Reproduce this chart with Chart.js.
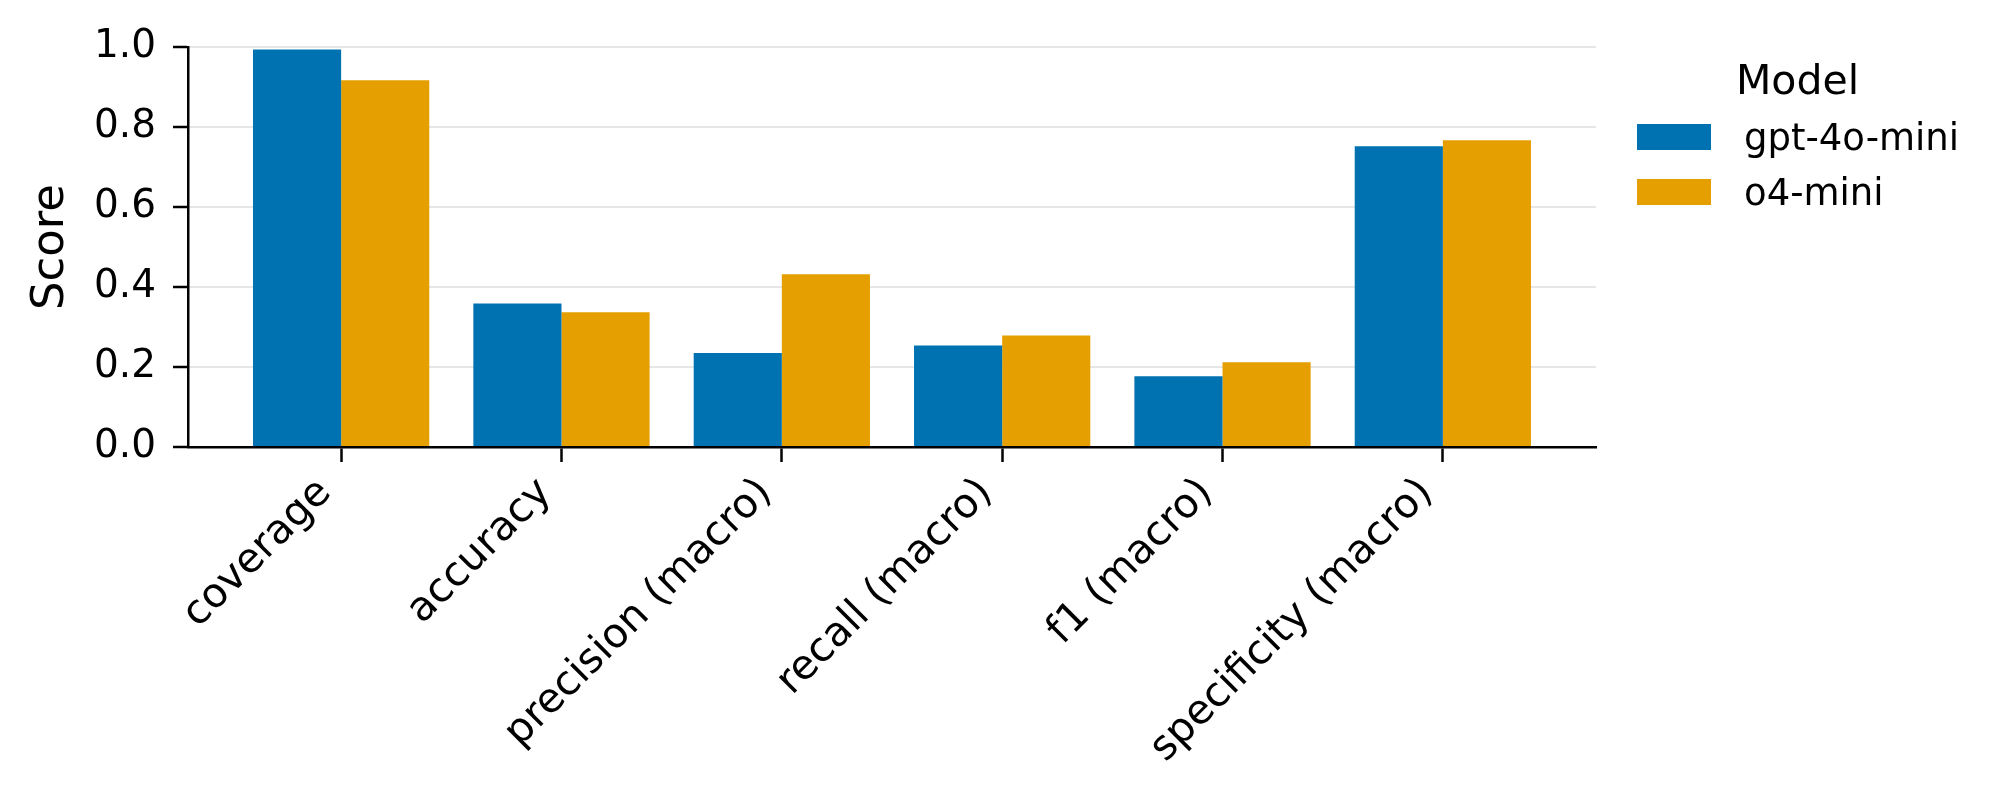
<!DOCTYPE html>
<html>
<head>
<meta charset="utf-8">
<script src="https://cdn.jsdelivr.net/npm/chart.js@4.4.1/dist/chart.umd.min.js"></script>
<style>
  html, body { margin: 0; padding: 0; background: #fff; }
  #wrap { position: relative; width: 2007px; height: 809px; }
  #chart { position: absolute; left: 0; top: 0; }
  .leg-title { position: absolute; left: 1637px; width: 321px; top: 60px; text-align: center;
               font-family: 'DejaVu Sans'; font-size: 41px; line-height: 1; color: #000; white-space: nowrap; }
  .leg-box { position: absolute; left: 1637px; width: 74px; height: 26px; }
  .leg-label { position: absolute; left: 1744px; font-family: 'DejaVu Sans'; font-size: 37px;
               line-height: 1; color: #000; white-space: nowrap; }
</style>
</head>
<body>
<div id="wrap">
  <canvas id="chart" width="2007" height="809"></canvas>
  <div id="legend"></div>
</div>
<script>
// data
const categories = ['coverage', 'accuracy', 'precision (macro)', 'recall (macro)', 'f1 (macro)', 'specificity (macro)'];
const gpt4oMini = [0.994, 0.359, 0.235, 0.254, 0.177, 0.752];
const o4Mini = [0.917, 0.337, 0.432, 0.279, 0.212, 0.767];
const seriesNames = ['gpt-4o-mini', 'o4-mini'];
const seriesColors = ['#0072B2', '#E69F00'];

const FONT = 'DejaVu Sans';

// Legend (outside the plot, like the original)
const legend = document.getElementById('legend');
legend.insertAdjacentHTML('beforeend', '<div class="leg-title">Model</div>');
seriesNames.forEach(function(name, i) {
    const boxTop = 124 + i * 55;
    legend.insertAdjacentHTML('beforeend',
        '<div class="leg-box" style="top:' + boxTop + 'px;background:' + seriesColors[i] + '"></div>' +
        '<div class="leg-label" style="top:' + (boxTop + 13 - 18) + 'px">' + name + '</div>');
});

function toPoints(values) {
    return values.map(function(v, i) { return { x: i, y: v }; });
}

const ctx = document.getElementById('chart');
const chart = new Chart(ctx, {
    type: 'bar',
    data: {
        datasets: [
            {
                label: seriesNames[0],
                data: toPoints(gpt4oMini),
                backgroundColor: seriesColors[0],
                borderWidth: 0,
                categoryPercentage: 0.8,
                barPercentage: 1.0
            },
            {
                label: seriesNames[1],
                data: toPoints(o4Mini),
                backgroundColor: seriesColors[1],
                borderWidth: 0,
                categoryPercentage: 0.8,
                barPercentage: 1.0
            }
        ]
    },
    options: {
        responsive: false,
        devicePixelRatio: 1,
        animation: false,
        layout: { padding: { top: 47, right: 411, bottom: 0, left: 0 } },
        plugins: {
            legend: { display: false },
            tooltip: { enabled: false }
        },
        scales: {
            x: {
                type: 'linear',
                min: -0.695,
                max: 5.695,
                offset: false,
                z: 1,
                afterBuildTicks: function(scale) {
                    scale.ticks = categories.map(function(c, i) { return { value: i }; });
                },
                afterFit: function(scale) { scale.height = 362; },
                grid: {
                    display: true,
                    offset: false,
                    drawOnChartArea: false,
                    drawTicks: true,
                    tickLength: 15,
                    tickColor: '#000',
                    tickWidth: 2.5
                },
                border: { display: true, color: '#000', width: 2.5 },
                ticks: {
                    autoSkip: false,
                    minRotation: 45,
                    maxRotation: 45,
                    padding: 7,
                    labelOffset: -16,
                    color: '#000',
                    font: { family: FONT, size: 41 },
                    callback: function(value) { return categories[value]; }
                }
            },
            y: {
                min: 0,
                max: 1,
                afterFit: function(scale) { scale.width = 188; },
                grid: {
                    color: '#e6e6e6',
                    lineWidth: 2,
                    tickColor: '#000',
                    tickWidth: 2.5,
                    tickLength: 15
                },
                border: { color: '#000', width: 2.5 },
                ticks: {
                    stepSize: 0.2,
                    padding: 17,
                    color: '#000',
                    font: { family: FONT, size: 39 },
                    callback: function(value) { return value.toFixed(1); }
                },
                title: {
                    display: true,
                    text: 'Score',
                    color: '#000',
                    font: { family: FONT, size: 45 },
                    padding: { top: 24, bottom: 0 }
                }
            }
        }
    }
});
</script>
</body>
</html>
